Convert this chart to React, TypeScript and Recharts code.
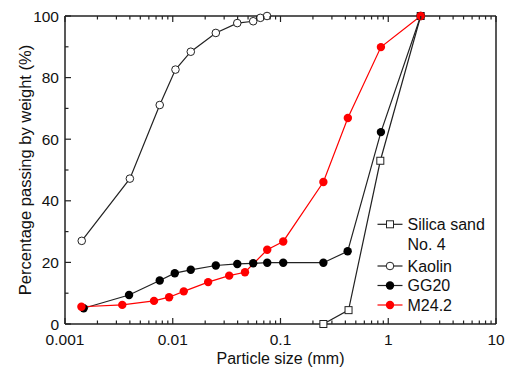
import React from 'react';
import { LineChart, Line, XAxis, YAxis } from 'recharts';

const silicaX = [0.25, 0.428, 0.844, 2];
const silicaY = [0, 4.5, 53, 100];
const kaolinX = [0.00143, 0.004, 0.00757, 0.0106, 0.0147, 0.0251, 0.0397, 0.0558, 0.065, 0.075];
const kaolinY = [27, 47.2, 71.1, 82.6, 88.4, 94.5, 97.7, 98.3, 99.4, 100];
const gg20X = [0.00149, 0.00393, 0.00757, 0.01044, 0.0147, 0.0251, 0.0397, 0.0558, 0.0753, 0.106, 0.25, 0.42, 0.855, 2];
const gg20Y = [5.1, 9.4, 14.1, 16.5, 17.6, 19, 19.5, 19.7, 19.9, 19.9, 19.9, 23.6, 62.3, 100];
const m24X = [0.00142, 0.0034, 0.0067, 0.00925, 0.01265, 0.0213, 0.0334, 0.0468, 0.0753, 0.106, 0.25, 0.4217, 0.855, 2];
const m24Y = [5.6, 6.2, 7.5, 8.7, 10.6, 13.6, 15.7, 16.8, 24.1, 26.8, 46.1, 66.9, 89.9, 100];

const xDecades = [0.001, 0.01, 0.1, 1, 10];
const xDecadeLabels = ['0.001', '0.01', '0.1', '1', '10'];
const yTicks = [0, 10, 20, 30, 40, 50, 60, 70, 80, 90, 100];
const yMajorLabels = [0, 20, 40, 60, 80, 100];

const seriesNames = ['Silica sand', 'Kaolin', 'GG20', 'M24.2'];

const toPts = (xs: number[], ys: number[]) => xs.map((x, i) => ({ x, y: ys[i] }));

const xTicks: number[] = [];
for (let d = 0; d < 4; d++) {
  for (let m = 1; m <= 9; m++) xTicks.push(Number((m * xDecades[d]).toPrecision(3)));
}
xTicks.push(10);

const FONT = 'Liberation Sans, Arial, sans-serif';
const AX = '#222';
const LINE = '#222';
const RED = '#ff0000';

const decadeIndex = (v: number) => xDecades.findIndex((d) => Math.abs(v - d) / d < 1e-6);

const BottomTick = (props: any) => {
  const { x, y, payload } = props;
  const i = decadeIndex(payload.value);
  const major = i >= 0;
  return (
    <g>
      <line x1={x} x2={x} y1={y} y2={y - (major ? 6 : 3.5)} stroke={AX} strokeWidth={1.2} />
      {major && (
        <text x={x} y={y + 21} textAnchor="middle" fontFamily={FONT} fontSize={15.5} fill="#111">
          {xDecadeLabels[i]}
        </text>
      )}
    </g>
  );
};

const TopTick = (props: any) => {
  const { x, y, payload } = props;
  const major = decadeIndex(payload.value) >= 0;
  return <line x1={x} x2={x} y1={y} y2={y + (major ? 6 : 3.5)} stroke={AX} strokeWidth={1.2} />;
};

const LeftTick = (props: any) => {
  const { x, y, payload } = props;
  const v = payload.value;
  const major = yMajorLabels.includes(v);
  return (
    <g>
      <line x1={x} x2={x + (major ? 6 : 3.5)} y1={y} y2={y} stroke={AX} strokeWidth={1.2} />
      {major && (
        <text x={x - 6} y={y + 5.5} textAnchor="end" fontFamily={FONT} fontSize={15.5} fill="#111">
          {v}
        </text>
      )}
    </g>
  );
};

const legendItems = [
  { y: 224.3, color: LINE, kind: 'square', lines: [seriesNames[0], 'No. 4'] },
  { y: 266, color: LINE, kind: 'open', lines: [seriesNames[1]] },
  { y: 285.5, color: LINE, kind: 'filled', lines: [seriesNames[2]] },
  { y: 305, color: RED, kind: 'red', lines: [seriesNames[3]] },
];

const SquareDot = (props: any) => {
  const { cx, cy } = props;
  if (cx == null || cy == null) return null;
  return <rect x={cx - 3.5} y={cy - 3.5} width={7} height={7} fill="#fff" stroke={LINE} strokeWidth={1} />;
};

export default function App() {
  const lx = 377.5;
  return (
    <div style={{ position: 'absolute', left: 0, top: 0, width: 507, height: 367, background: '#fff' }}>
      <LineChart width={507} height={367} margin={{ top: 15, right: 10, bottom: 0, left: 0 }}>
        <XAxis
          xAxisId="b"
          dataKey="x"
          type="number"
          scale="log"
          domain={[0.001, 10]}
          allowDataOverflow
          ticks={xTicks}
          interval={0}
          tickSize={0}
          tickMargin={0}
          tick={<BottomTick />}
          axisLine={{ stroke: AX, strokeWidth: 1.5 }}
          tickLine={false}
          height={43}
        />
        <XAxis
          xAxisId="t"
          orientation="top"
          dataKey="x"
          type="number"
          scale="log"
          domain={[0.001, 10]}
          allowDataOverflow
          ticks={xTicks}
          interval={0}
          tickSize={0}
          tickMargin={0}
          tick={<TopTick />}
          axisLine={{ stroke: AX, strokeWidth: 1.5 }}
          tickLine={false}
          height={1}
        />
        <YAxis
          yAxisId="l"
          type="number"
          domain={[0, 100]}
          ticks={yTicks}
          interval={0}
          tickSize={0}
          tickMargin={0}
          tick={<LeftTick />}
          axisLine={{ stroke: AX, strokeWidth: 1.5 }}
          tickLine={false}
          width={65}
        />
        <YAxis
          yAxisId="r"
          orientation="right"
          type="number"
          domain={[0, 100]}
          ticks={[0, 100]}
          tick={false}
          tickLine={false}
          axisLine={{ stroke: AX, strokeWidth: 1.5 }}
          width={1}
        />
        <Line
          xAxisId="b"
          yAxisId="l"
          name={seriesNames[0]}
          data={toPts(silicaX, silicaY)}
          dataKey="y"
          stroke={LINE}
          strokeWidth={1.2}
          dot={<SquareDot />}
          isAnimationActive={false}
        />
        <Line
          xAxisId="b"
          yAxisId="l"
          name={seriesNames[1]}
          data={toPts(kaolinX, kaolinY)}
          dataKey="y"
          stroke={LINE}
          strokeWidth={1.2}
          dot={{ r: 3.8, fill: '#fff', stroke: LINE, strokeWidth: 1 }}
          isAnimationActive={false}
        />
        <Line
          xAxisId="b"
          yAxisId="l"
          name={seriesNames[2]}
          data={toPts(gg20X, gg20Y)}
          dataKey="y"
          stroke={LINE}
          strokeWidth={1.2}
          dot={{ r: 4.2, fill: '#000', stroke: '#000', strokeWidth: 0 }}
          isAnimationActive={false}
        />
        <Line
          xAxisId="b"
          yAxisId="l"
          name={seriesNames[3]}
          data={toPts(m24X, m24Y)}
          dataKey="y"
          stroke={RED}
          strokeWidth={1.2}
          dot={{ r: 4.2, fill: RED, stroke: RED, strokeWidth: 0 }}
          isAnimationActive={false}
        />
      </LineChart>
      <svg width={507} height={367} style={{ position: 'absolute', left: 0, top: 0, pointerEvents: 'none' }}>
        <text x={280.5} y={364} textAnchor="middle" fontFamily={FONT} fontSize={16} fill="#111">
          Particle size (mm)
        </text>
        <text
          x={0}
          y={0}
          transform="translate(31,170) rotate(-90)"
          textAnchor="middle"
          fontFamily={FONT}
          fontSize={16.5}
          fill="#111"
        >
          Percentage passing by weight (%)
        </text>
        {legendItems.map((it, k) => (
          <g key={k}>
            <line x1={lx} x2={lx + 25} y1={it.y} y2={it.y} stroke={it.color} strokeWidth={1.2} />
            {it.kind === 'square' && <rect x={lx + 9} y={it.y - 3.5} width={7} height={7} fill="#fff" stroke={LINE} strokeWidth={1} />}
            {it.kind === 'open' && <circle cx={lx + 12.5} cy={it.y} r={3.8} fill="#fff" stroke={LINE} strokeWidth={1} />}
            {it.kind === 'filled' && <circle cx={lx + 12.5} cy={it.y} r={4.2} fill="#000" />}
            {it.kind === 'red' && <circle cx={lx + 12.5} cy={it.y} r={4.2} fill={RED} />}
            {it.lines.map((t, j) => (
              <text key={j} x={lx + 30} y={it.y + 5.5 + j * 20.5} fontFamily={FONT} fontSize={16} fill="#111">
                {t}
              </text>
            ))}
          </g>
        ))}
      </svg>
    </div>
  );
}
